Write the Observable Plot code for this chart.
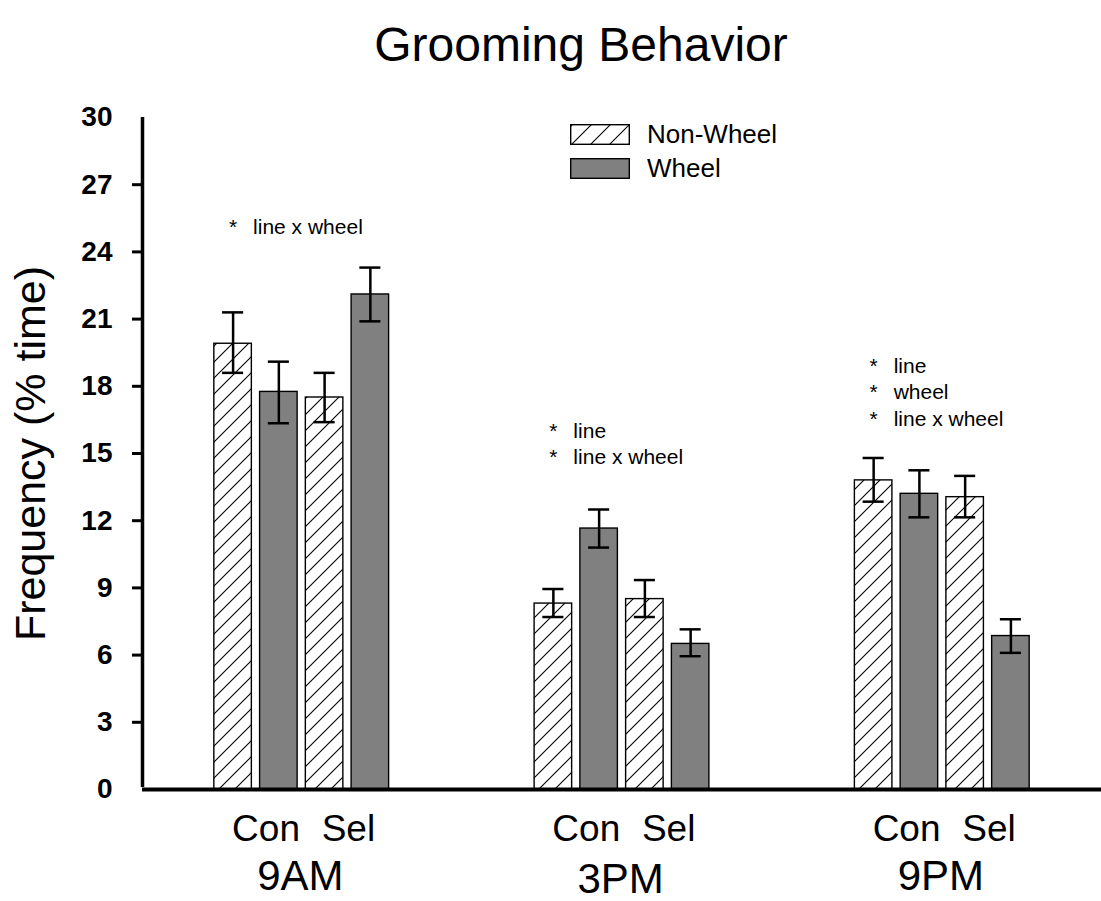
<!DOCTYPE html>
<html>
<head>
<meta charset="utf-8">
<script src="https://cdn.jsdelivr.net/npm/d3@7"></script>
<script src="https://cdn.jsdelivr.net/npm/@observablehq/plot@0.6"></script>
<style>
  html, body { margin: 0; padding: 0; background: #fff; }
  #wrap { position: relative; width: 1101px; height: 901px; font-family: "Liberation Sans", Arial, sans-serif; }
  #title { position: absolute; top: 21px; left: 581px; transform: translateX(-50%); font-size: 48px; line-height: 48px; white-space: nowrap; color: #000; }
  #legend { position: absolute; left: 570px; top: 124px; font-size: 26px; color: #000; }
  #legend .row { display: flex; align-items: center; height: 20px; margin-bottom: 14px; }
  #legend svg { display: block; margin-right: 17px; }
</style>
</head>
<body>
<div id="wrap">
  <div id="title">Grooming Behavior</div>
  <div id="legend"></div>
</div>
<script>
// Time points, selection lines and housing conditions
const groups = ["9AM", "3PM", "9PM"];
const lines = ["Con", "Sel"];
const housing = ["Non-Wheel", "Wheel"];

// Mean grooming frequency (% time), per time point: Con NW, Con W, Sel NW, Sel W
const means = [
  [19.9, 17.75, 17.5, 22.1],
  [8.3, 11.65, 8.5, 6.5],
  [13.8, 13.2, 13.05, 6.85]
];
// Upper and lower ends of the error bars
const errHigh = [
  [21.3, 19.1, 18.6, 23.3],
  [8.95, 12.5, 9.35, 7.15],
  [14.8, 14.25, 14.0, 7.6]
];
const errLow = [
  [18.6, 16.35, 16.4, 20.9],
  [7.7, 10.8, 7.7, 5.95],
  [12.85, 12.15, 12.15, 6.1]
];

// Significant effects noted above each time point
const effects = [
  ["line x wheel"],
  ["line", "line x wheel"],
  ["line", "wheel", "line x wheel"]
];

const yTicks = [0, 3, 6, 9, 12, 15, 18, 21, 24, 27, 30];

// Layout: slots per time point, and the level of each effects note
const groupStride = 7;
const noteLevel = [24.82, 14.51, 16.25];

const rows = [];
groups.forEach((g, gi) => {
  lines.forEach((l, li) => {
    housing.forEach((h, hi) => {
      const k = li * 2 + hi;
      rows.push({
        group: g, line: l, housing: h,
        slot: gi * groupStride + k,
        mean: means[gi][k], lo: errLow[gi][k], hi: errHigh[gi][k]
      });
    });
  });
});

const notes = groups.map((g, gi) => ({
  slot: gi * groupStride,
  level: noteLevel[gi],
  text: effects[gi].join("\n"),
  stars: effects[gi].map(() => "*").join("\n")
}));

const lineLabels = groups.flatMap((g, gi) => lines.map((l, li) => ({
  text: l, pos: gi * groupStride + (li === 0 ? 0.72 : 2.52)
})));
const groupLabels = groups.map((g, gi) => ({ text: g, pos: gi * groupStride + 1.47, gi }));

const half = 0.41, cap = 0.23;
const font = "Liberation Sans, Arial, sans-serif";

const chart = Plot.plot({
  width: 1101,
  height: 901,
  marginLeft: 142,
  marginRight: 0,
  marginTop: 117,
  marginBottom: 112,
  style: { fontFamily: font, background: "transparent", overflow: "visible" },
  x: { type: "linear", domain: [-1.98, 18.98], axis: null },
  y: { domain: [0, 30], axis: null },
  marks: [
    Plot.rectY(rows, {
      x1: d => d.slot - half, x2: d => d.slot + half,
      y1: 0, y2: "mean",
      fill: d => d.housing === "Wheel" ? "#808080" : "url(#hatch)",
      stroke: "#000", strokeWidth: 1.4
    }),
    Plot.ruleX(rows, { x: "slot", y1: "lo", y2: "hi", stroke: "#000", strokeWidth: 2.5 }),
    Plot.ruleY(rows, { y: "hi", x1: d => d.slot - cap, x2: d => d.slot + cap, stroke: "#000", strokeWidth: 2.5 }),
    Plot.ruleY(rows, { y: "lo", x1: d => d.slot - cap, x2: d => d.slot + cap, stroke: "#000", strokeWidth: 2.5 }),
    // axes
    Plot.axisY({ ticks: yTicks.slice(1, -1), tickSize: 10, tickFormat: () => "", strokeWidth: 3 }),
    Plot.axisY({ ticks: yTicks, tickSize: 0, tickPadding: 30, fontSize: 28, fontWeight: "bold", fill: "#000" }),
    Plot.ruleX([-1.98], { y1: 0, y2: 30, insetTop: -2, stroke: "#000", strokeWidth: 3.5 }),
    Plot.ruleY([0], { stroke: "#000", strokeWidth: 4 }),
    Plot.text(["Frequency (% time)"], {
      frameAnchor: "left", dx: -111, rotate: -90, fontSize: 43, fill: "#000",
      textAnchor: "middle", lineAnchor: "middle"
    }),
    // effects notes
    Plot.text(notes, {
      x: "slot", y: "level", text: "stars", textAnchor: "middle",
      lineAnchor: "bottom", lineHeight: 1.25, fontSize: 21, fill: "#000"
    }),
    Plot.text(notes, {
      x: "slot", y: "level", text: "text", textAnchor: "start", dx: 20,
      lineAnchor: "bottom", lineHeight: 1.25, fontSize: 21, fill: "#000"
    }),
    // category labels under the axis
    Plot.text(lineLabels, {
      x: "pos", frameAnchor: "bottom", text: "text", lineAnchor: "bottom",
      dy: 51, fontSize: 37, fill: "#000"
    }),
    Plot.text(groupLabels.filter(d => d.gi !== 1), {
      x: "pos", frameAnchor: "bottom", text: "text", lineAnchor: "bottom",
      dy: 100, fontSize: 42, fill: "#000"
    }),
    Plot.text(groupLabels.filter(d => d.gi === 1), {
      x: "pos", frameAnchor: "bottom", text: "text", lineAnchor: "bottom",
      dy: 103, fontSize: 42, fill: "#000"
    })
  ]
});

// diagonal hatching used by the Non-Wheel bars
const hatchDefs = `
  <pattern id="hatch" patternUnits="userSpaceOnUse" width="16" height="16">
    <rect width="16" height="16" fill="#fff"/>
    <path d="M-4,4 L4,-4 M0,16 L16,0 M12,20 L20,12" stroke="#000" stroke-width="1.1"/>
  </pattern>`;
d3.select(chart).insert("defs", ":first-child").html(hatchDefs);
chart.style.position = "absolute";
chart.style.left = "0";
chart.style.top = "0";

const wrap = document.getElementById("wrap");
wrap.insertBefore(chart, wrap.firstChild);

// legend
const legend = d3.select("#legend");
housing.forEach(h => {
  const row = legend.append("div").attr("class", "row");
  const sw = row.append("svg").attr("width", 60).attr("height", 21);
  if (h === "Non-Wheel") {
    sw.append("defs").html(`
      <pattern id="hatchKey" patternUnits="userSpaceOnUse" width="19" height="19" x="3">
        <rect width="19" height="19" fill="#fff"/>
        <path d="M0,19 L19,0 M-5,5 L5,-5 M14,24 L24,14" stroke="#000" stroke-width="1.1"/>
      </pattern>`);
  }
  sw.append("rect").attr("x", 0.7).attr("y", 0.7).attr("width", 58.6).attr("height", 19.6)
    .attr("fill", h === "Wheel" ? "#808080" : "url(#hatchKey)")
    .attr("stroke", "#000").attr("stroke-width", 1.4);
  row.append("span").text(h);
});
</script>
</body>
</html>
